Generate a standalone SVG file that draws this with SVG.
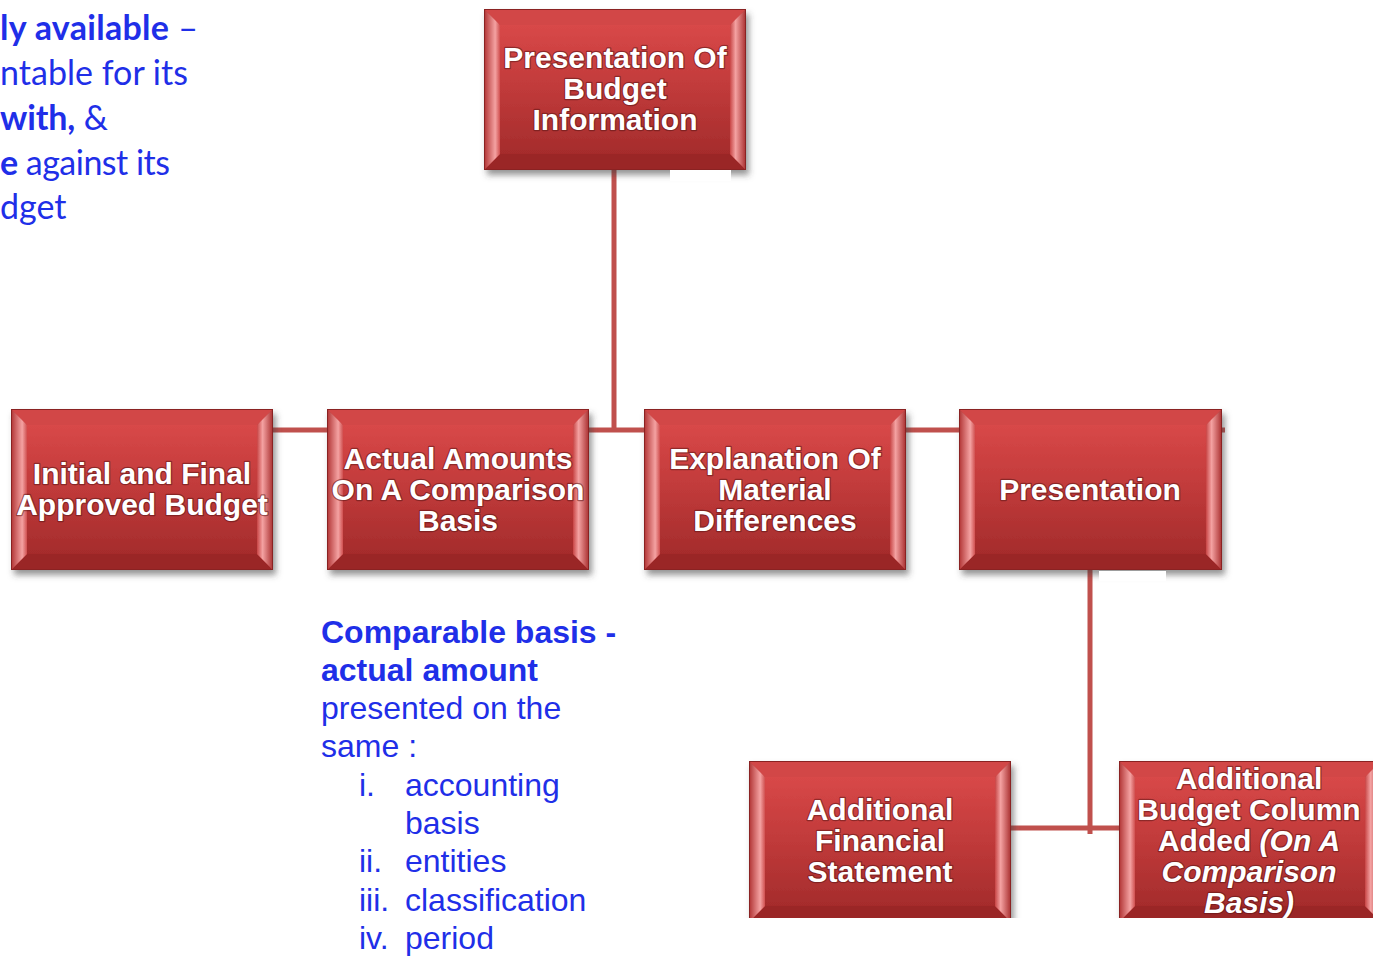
<svg xmlns="http://www.w3.org/2000/svg" width="1373" height="959" viewBox="0 0 1373 959">
<style>
.nt{font-family:"Liberation Sans",Arial,sans-serif;font-weight:bold;font-size:30px;fill:#ffffff;text-anchor:middle;stroke:#5a1515;stroke-opacity:0.55;stroke-width:2.4;paint-order:stroke;stroke-linejoin:round}
.it{font-style:italic}
.conn{stroke:#c0504d;stroke-width:5;fill:none}
.bl{font-family:Lato,"Liberation Sans",sans-serif;font-size:34px;fill:#1f2fe8}
.bt{font-family:"Liberation Sans",Arial,sans-serif;font-size:32px;fill:#1f2fe8}
.b{font-weight:bold}
</style>
<defs>
<linearGradient id="face" x1="0" y1="0" x2="0" y2="1">
<stop offset="0" stop-color="#d84848"/>
<stop offset="0.5" stop-color="#c03a3a"/>
<stop offset="1" stop-color="#a52c2c"/>
</linearGradient>
<linearGradient id="lb" x1="0" y1="0" x2="1" y2="0">
<stop offset="0" stop-color="#b03232"/>
<stop offset="0.7" stop-color="#f4a2a2"/>
<stop offset="1" stop-color="#d05050"/>
</linearGradient>
<linearGradient id="rb" x1="0" y1="0" x2="1" y2="0">
<stop offset="0" stop-color="#c84545"/>
<stop offset="0.35" stop-color="#f4a2a2"/>
<stop offset="1" stop-color="#a82e2e"/>
</linearGradient>
<filter id="sh" x="-10%" y="-10%" width="125%" height="130%">
<feDropShadow dx="3" dy="5" stdDeviation="3" flood-color="#404040" flood-opacity="0.55"/>
</filter>
<symbol id="box" viewBox="0 0 262 161" preserveAspectRatio="none">
<rect x="0" y="0" width="262" height="161" fill="#c23b3b"/>
<polygon points="0,0 262,0 246,16 16,16" fill="#d24646"/>
<polygon points="0,161 262,161 246,145 16,145" fill="#9a2828"/>
<polygon points="0,0 16,16 16,145 0,161" fill="url(#lb)"/>
<polygon points="262,0 246,16 246,145 262,161" fill="url(#rb)"/>
<rect x="16" y="16" width="230" height="129" fill="url(#face)"/>
<rect x="0.5" y="0.5" width="261" height="160" fill="none" stroke="#8a2424" stroke-width="1"/>
</symbol>
<clipPath id="clipb"><rect x="0" y="0" width="1373" height="918"/></clipPath>
</defs>
<rect width="1373" height="959" fill="#ffffff"/>

<g id="connectors">
<line class="conn" x1="614" y1="168" x2="614" y2="432"/>
<line class="conn" x1="270" y1="430" x2="1225" y2="430"/>
<line class="conn" x1="1090" y1="568" x2="1090" y2="834"/>
<line class="conn" x1="1009" y1="828" x2="1121" y2="828"/>
</g>

<g id="left-text">
<text class="bl" x="0" y="40" textLength="198"><tspan class="b">ly available</tspan> –</text>
<text class="bl" x="0" y="85" textLength="188">ntable for its</text>
<text class="bl" x="0" y="130" textLength="108"><tspan class="b">with,</tspan> &amp;</text>
<text class="bl" x="0" y="175" textLength="170"><tspan class="b">e</tspan> against its</text>
<text class="bl" x="0" y="219">dget</text>
</g>

<g id="node-top">
<use href="#box" x="484" y="9" width="262" height="161" filter="url(#sh)"/>
<text class="nt" x="615" y="68">Presentation Of</text>
<text class="nt" x="615" y="99">Budget</text>
<text class="nt" x="615" y="130">Information</text>
</g>
<rect x="670" y="170" width="61" height="11" fill="#ffffff"/>

<g id="node-initial">
<use href="#box" x="11" y="409" width="262" height="161" filter="url(#sh)"/>
<text class="nt" x="142" y="484">Initial and Final</text>
<text class="nt" x="142" y="515">Approved Budget</text>
</g>

<g id="node-actual">
<use href="#box" x="327" y="409" width="262" height="161" filter="url(#sh)"/>
<text class="nt" x="458" y="469">Actual Amounts</text>
<text class="nt" x="458" y="500">On A Comparison</text>
<text class="nt" x="458" y="531">Basis</text>
</g>

<g id="node-explanation">
<use href="#box" x="644" y="409" width="262" height="161" filter="url(#sh)"/>
<text class="nt" x="775" y="469">Explanation Of</text>
<text class="nt" x="775" y="500">Material</text>
<text class="nt" x="775" y="531">Differences</text>
</g>

<g id="node-presentation">
<use href="#box" x="959" y="409" width="263" height="161" filter="url(#sh)"/>
<text class="nt" x="1090" y="500">Presentation</text>
</g>
<rect x="1099" y="571" width="67" height="10" fill="#ffffff"/>

<g id="node-additional-fs" clip-path="url(#clipb)">
<use href="#box" x="749" y="761" width="262" height="161" filter="url(#sh)"/>
<text class="nt" x="880" y="820">Additional</text>
<text class="nt" x="880" y="851">Financial</text>
<text class="nt" x="880" y="882">Statement</text>
</g>

<g id="node-budget-column" clip-path="url(#clipb)">
<use href="#box" x="1119" y="761" width="262" height="161" filter="url(#sh)"/>
<text class="nt" x="1249" y="789">Additional</text>
<text class="nt" x="1249" y="820">Budget Column</text>
<text class="nt" x="1249" y="851">Added <tspan class="it">(On A</tspan></text>
<text class="nt it" x="1249" y="882">Comparison</text>
<text class="nt it" x="1249" y="913">Basis)</text>
</g>

<g id="bottom-text">
<text class="bt b" x="321" y="643">Comparable basis -</text>
<text class="bt b" x="321" y="681">actual amount</text>
<text class="bt" x="321" y="719">presented on the</text>
<text class="bt" x="321" y="757">same :</text>
<text class="bt" x="359" y="796">i.</text><text class="bt" x="405" y="796">accounting</text>
<text class="bt" x="405" y="834">basis</text>
<text class="bt" x="359" y="872">ii.</text><text class="bt" x="405" y="872">entities</text>
<text class="bt" x="359" y="911">iii.</text><text class="bt" x="405" y="911">classification</text>
<text class="bt" x="359" y="949">iv.</text><text class="bt" x="405" y="949">period</text>
</g>
</svg>
